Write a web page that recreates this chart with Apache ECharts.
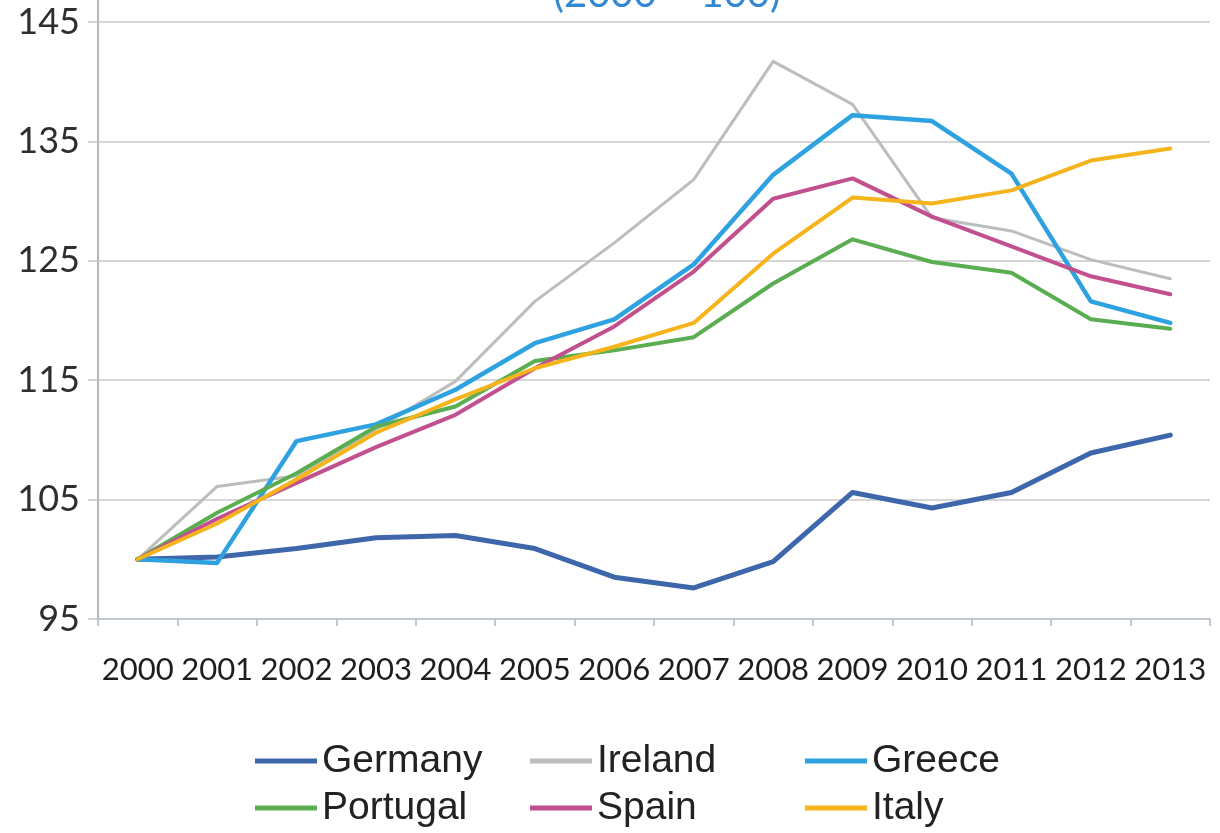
<!DOCTYPE html>
<html>
<head>
<meta charset="utf-8">
<title>Unit labour costs (2000 = 100)</title>
<script src="https://cdn.jsdelivr.net/npm/echarts@6/dist/echarts.min.js"></script>
<style>
  html, body { margin: 0; padding: 0; background: #ffffff; }
  #chart { width: 1220px; height: 833px; }
</style>
</head>
<body>
<div id="chart"></div>
<script>
// Index values, 2000 = 100
const years = ['2000', '2001', '2002', '2003', '2004', '2005', '2006',
               '2007', '2008', '2009', '2010', '2011', '2012', '2013'];

const germany  = [100, 100.2, 100.9, 101.8, 102.0, 100.9, 98.5, 97.6, 99.8, 105.6, 104.3, 105.6, 108.9, 110.4];
const ireland  = [100, 106.1, 107.0, 110.9, 114.9, 121.6, 126.5, 131.8, 141.7, 138.1, 128.6, 127.5, 125.1, 123.5];
const greece   = [100, 99.7, 109.9, 111.3, 114.2, 118.1, 120.1, 124.7, 132.2, 137.2, 136.7, 132.3, 121.6, 119.8];
const portugal = [100, 103.9, 107.2, 111.1, 112.8, 116.6, 117.5, 118.6, 123.1, 126.8, 124.9, 124.0, 120.1, 119.3];
const spain    = [100, 103.4, 106.4, 109.4, 112.1, 116.0, 119.5, 124.1, 130.2, 131.9, 128.7, 126.2, 123.7, 122.2];
const italy    = [100, 103.0, 106.7, 110.6, 113.4, 116.0, 117.8, 119.8, 125.6, 130.3, 129.8, 130.9, 133.4, 134.4];

const yMin = 95;
const yMax = 145;
const yStep = 10;

const colors = {
  Germany: '#3e66aa',
  Ireland: '#bdbdbd',
  Greece: '#2ea2e0',
  Portugal: '#5aad50',
  Spain: '#c2508e',
  Italy: '#f5b41c'
};

const chart = echarts.init(document.getElementById('chart'), null, { renderer: 'canvas' });

function lineSeries(name, data, width) {
  return {
    name: name,
    type: 'line',
    data: data,
    symbol: 'none',
    smooth: false,
    color: colors[name],
    lineStyle: { color: colors[name], width: width, cap: 'round', join: 'round' },
    emphasis: { disabled: true }
  };
}

const legendText = {
  fontFamily: '"Liberation Sans", Arial, sans-serif',
  fontSize: 39,
  color: '#222222',
  lineHeight: 40
};

// One legend column per pair of countries so the entries line up in a 3 x 2 block
function legendColumn(left, names) {
  return {
    orient: 'vertical',
    left: left,
    top: 741,
    padding: 0,
    itemGap: 7,
    itemWidth: 62,
    itemHeight: 5,
    icon: 'rect',
    selectedMode: false,
    textStyle: legendText,
    data: names
  };
}

const option = {
  backgroundColor: '#ffffff',
  animation: false,
  graphic: [
    {
      type: 'text',
      x: 667,
      y: 14,
      style: {
        text: '(2000 = 100)',
        font: '40px Lato, "Open Sans", sans-serif',
        fill: '#3388d2',
        align: 'center',
        verticalAlign: 'bottom'
      }
    },
    {
      // value axis line continues up past the top gridline
      type: 'line',
      shape: { x1: 98, y1: 0, x2: 98, y2: 22 },
      style: { stroke: '#b8b8b8', lineWidth: 2 }
    }
  ],
  legend: [
    legendColumn(255, ['Germany', 'Portugal']),
    legendColumn(530, ['Ireland', 'Spain']),
    legendColumn(805, ['Greece', 'Italy'])
  ],
  grid: {
    left: 98,
    right: 10,
    top: 22,
    bottom: 214,
    containLabel: false
  },
  xAxis: {
    type: 'category',
    data: years,
    boundaryGap: true,
    axisLine: { show: true, lineStyle: { color: '#bcc3d0', width: 1.5 } },
    axisTick: { show: true, length: 7, lineStyle: { color: '#b0b6c2', width: 1.5 } },
    axisLabel: {
      interval: 0,
      margin: 35,
      fontFamily: 'Lato, "Open Sans", sans-serif',
      fontSize: 31,
      color: '#1e1e1e'
    },
    splitLine: { show: false }
  },
  yAxis: {
    type: 'value',
    min: yMin,
    max: yMax,
    interval: yStep,
    axisLine: { show: true, lineStyle: { color: '#b8b8b8', width: 2 } },
    axisTick: { show: true, length: 10, lineStyle: { color: '#c6c6c6', width: 1.5 } },
    axisLabel: {
      margin: 18,
      fontFamily: 'Lato, "Open Sans", sans-serif',
      fontSize: 36,
      color: '#2e2e2e'
    },
    splitLine: { show: true, lineStyle: { color: '#c9c9c9', width: 1.5 } }
  },
  series: [
    lineSeries('Ireland', ireland, 3),
    lineSeries('Germany', germany, 5),
    lineSeries('Greece', greece, 4.5),
    lineSeries('Portugal', portugal, 4),
    lineSeries('Spain', spain, 4),
    lineSeries('Italy', italy, 4)
  ]
};

chart.setOption(option);
</script>
</body>
</html>
